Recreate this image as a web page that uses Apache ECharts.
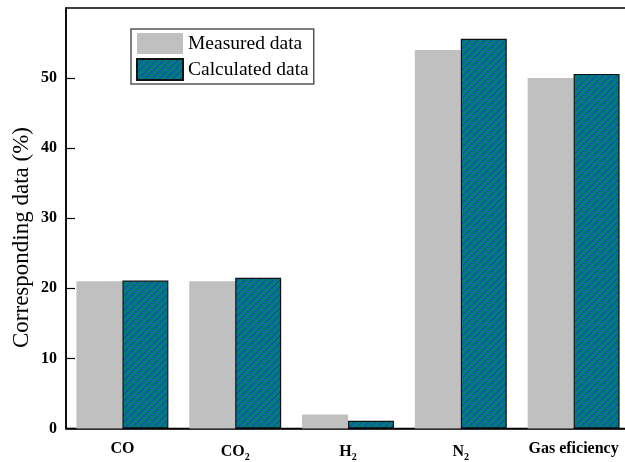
<!DOCTYPE html>
<html><head><meta charset="utf-8">
<script src="https://cdn.jsdelivr.net/npm/echarts@6/dist/echarts.min.js"></script>
<style>html,body{margin:0;padding:0;background:#fff}#c{width:625px;height:462px}</style>
</head><body><div id="c"></div>
<script>
const categories = ['CO', 'CO{sub|2}', 'H{sub|2}', 'N{sub|2}', 'Gas eficiency'];
const measured = [21.0, 21.0, 2.0, 54.0, 50.0];
const calculated = [21.1, 21.5, 1.1, 55.6, 50.6];
const seriesNames = ['Measured data', 'Calculated data'];
const yTicks = [0, 10, 20, 30, 40, 50];
const yTitle = 'Corresponding data (%)';

function hatch() {
  const s = 7;
  const cv = document.createElement('canvas');
  cv.width = s; cv.height = s;
  const g = cv.getContext('2d');
  g.fillStyle = '#007a7c';
  g.fillRect(0, 0, s, s);
  g.strokeStyle = '#1f36c8';
  g.lineWidth = 1;
  g.beginPath();
  g.moveTo(0, s); g.lineTo(s, 0);
  g.moveTo(-1, 1); g.lineTo(1, -1);
  g.moveTo(s - 1, s + 1); g.lineTo(s + 1, s - 1);
  g.stroke();
  return cv;
}

const chart = echarts.init(document.getElementById('c'), null, {renderer: 'canvas'});
chart.setOption({
  animation: false,
  backgroundColor: '#fff',
  grid: {left: 66, top: 8, width: 564, height: 420.5, outerBoundsMode: 'none', containLabel: false,
         show: true, borderColor: '#000', borderWidth: 1.5, backgroundColor: 'transparent'},
  legend: {
    orient: 'vertical', left: 131, top: 29,
    icon: 'rect',
    itemWidth: 46, itemHeight: 21, itemGap: 4,
    padding: [4, 5, 3, 5],
    borderColor: '#555', borderWidth: 1.5,
    textStyle: {fontFamily: 'Liberation Serif', fontSize: 19.5, color: '#000'},
    data: seriesNames
  },
  graphic: [{
    type: 'text',
    style: {text: yTitle, font: '23px "Liberation Serif"', fill: '#000', textVerticalAlign: 'top'},
    rotation: Math.PI / 2,
    x: 10, y: 348
  }],
  xAxis: {
    type: 'category', data: categories,
    axisLine: {lineStyle: {color: '#000', width: 1.5}},
    axisTick: {show: false},
    axisLabel: {
      interval: 0,
      margin: 12, color: '#000', fontFamily: 'Liberation Serif', fontWeight: 'bold', fontSize: 16,
      rich: {sub: {fontFamily: 'Liberation Serif', fontWeight: 'bold', fontSize: 10, verticalAlign: 'bottom', padding: [12, 0, 0, 0]}}
    }
  },
  yAxis: {
    type: 'value', min: 0, max: 60, interval: 10,
    axisLine: {show: true, lineStyle: {color: '#000', width: 1.5}},
    axisTick: {show: true, inside: true, length: 9, customValues: yTicks, lineStyle: {color: '#000', width: 1.2}},
    axisLabel: {margin: 9, color: '#000', fontFamily: 'Liberation Serif', fontWeight: 'bold', fontSize: 16,
      customValues: yTicks},
    splitLine: {show: false}
  },
  series: [
    {name: seriesNames[0], type: 'bar', data: measured, barGap: '0%', barCategoryGap: '18.5%',
     itemStyle: {color: '#c0c0c0'}},
    {name: seriesNames[1], type: 'bar', data: calculated, barGap: '0%', barCategoryGap: '18.5%',
     itemStyle: {color: {image: hatch(), repeat: 'repeat'}, borderColor: '#111', borderWidth: 1.2}}
  ]
});
</script></body></html>
